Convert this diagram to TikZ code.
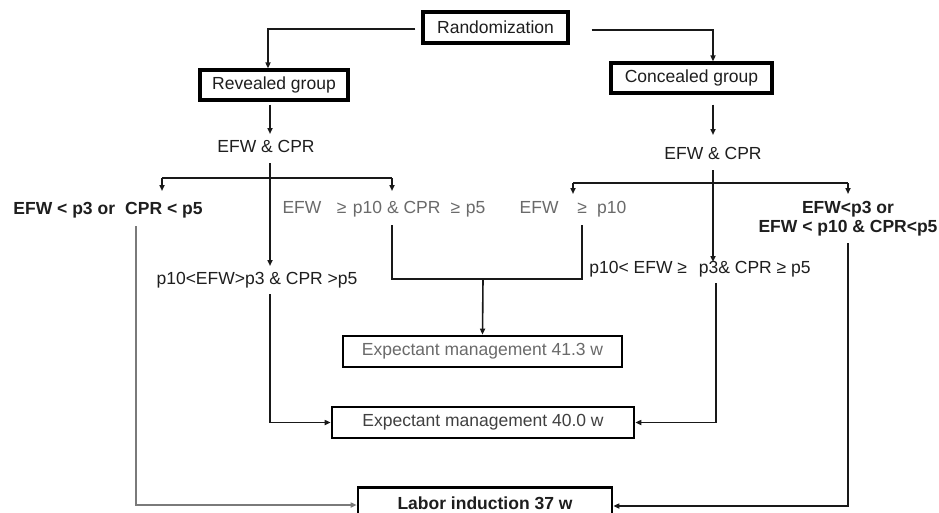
\documentclass[tikz,border=0pt]{standalone}
\usepackage{fontspec}
\setmainfont{Liberation Sans}
\usetikzlibrary{arrows.meta}
\definecolor{txt}{HTML}{1E1E1E}
\definecolor{gtxt}{HTML}{6A6A6A}
\definecolor{gline}{HTML}{7A7A7A}
\begin{document}
\begin{tikzpicture}[x=1pt,y=-1pt,
  every node/.style={font=\fontsize{17.5}{20}\selectfont, text=txt},
  lbl/.style={inner sep=0pt, align=center},
  boxa/.style={draw=black, line width=3.2pt, inner sep=0pt, minimum height=30pt},
  boxb/.style={draw=black, line width=2.6pt, inner sep=0pt, minimum height=31pt},
  conn/.style={draw=black!90, line width=1.6pt},
  arr/.style={conn, -{Triangle[length=6pt,width=5pt]}},
  garr/.style={draw=gline, line width=1.6pt, -{Triangle[length=6pt,width=5pt]}}
]
\useasboundingbox (0,0) rectangle (939,512);
\fill[white] (0,0) rectangle (939,512);

% boxes
\node[boxa, minimum width=145pt, minimum height=31pt] (rand) at (495.5,27.5) {Randomization};
\node[boxa, minimum width=148pt] (rev) at (274,85) {Revealed group};
\node[boxa, minimum width=161pt] (con) at (691.5,78) {Concealed group};
\node[boxb, minimum width=279pt, text=gtxt] (em41) at (482.5,351.5) {Expectant management 41.3 w};
\node[boxb, minimum width=302pt, text=txt!85] (em40) at (483,422.5) {Expectant management 40.0 w};
\node[boxb, minimum width=254pt, font=\fontsize{17.5}{20}\selectfont\bfseries] (li) at (485,503) {Labor induction 37 w};

% text labels
\node[lbl] (efw1) at (266,146) {EFW \& CPR};
\node[lbl] (efw2) at (713,153) {EFW \& CPR};
\node[lbl, font=\fontsize{17.5}{20}\selectfont\bfseries] (L1) at (108,210) {EFW < p3 or\hspace{0.3em} CPR < p5};
\node[lbl, text=gtxt] (L2) at (384,209) {EFW\hspace{0.6em} ≥ \hspace{0.1em}p10 \& CPR\hspace{0.3em} ≥ \hspace{0.05em}p5};
\node[lbl, text=gtxt] (R1) at (573,209) {EFW\hspace{0.8em} ≥\hspace{0.3em} p10};
\node[lbl, font=\fontsize{17.5}{19}\selectfont\bfseries] (R2) at (848,219) {EFW<p3 or\\EFW < p10 \& CPR<p5};
\node[lbl] (M1) at (257,280) {p10<EFW>p3 \& CPR >p5};
\node[lbl] (M2) at (700,269) {p10< EFW ≥\hspace{0.4em} p3\& CPR ≥ p5};

% junction / end coordinates
\coordinate (rl) at (268,29);
\coordinate (rr) at (713,30);
\coordinate (e1top) at (270,134);
\coordinate (e2top) at (713,135);
\coordinate (e1bot) at (270,163);
\coordinate (e2bot) at (713,170);
\coordinate (m1top) at (270,266);
\coordinate (m2top) at (713,262);
\coordinate (jl1) at (162,178);
\coordinate (jl2) at (392,178);
\coordinate (jl) at (270,178);
\coordinate (l1top) at (162,191);
\coordinate (l2top) at (392,191);
\coordinate (jr1) at (573,183);
\coordinate (jr2) at (848,183);
\coordinate (jr) at (713,183);
\coordinate (r1top) at (573,194);
\coordinate (r2top) at (848,194);
\coordinate (l1bot) at (136,226);
\coordinate (l2bot) at (392,225);
\coordinate (r1bot) at (582,225);
\coordinate (r2bot) at (848,243);
\coordinate (m1bot) at (270,294);
\coordinate (m2bot) at (716,283);
\coordinate (mL) at (392,279);
\coordinate (mR) at (582,279);
\coordinate (mM) at (483,279);

% randomization
\draw[arr] ([xshift=-6pt,yshift=-1.5pt]rand.west) -| ([xshift=-6pt]rev.north);
\draw[arr] ([xshift=22pt,yshift=-2.5pt]rand.east) -| ([xshift=21.5pt]con.north);
% group -> EFW & CPR
\draw[arr] ([xshift=-4pt,yshift=-3pt]rev.south) -- (e1top);
\draw[arr] ([xshift=21.5pt,yshift=-10pt]con.south) -- (e2top);

% left tree
\draw[arr] (e1bot) -- (m1top);
\draw[conn] (jl1) -- (jl2);
\draw[arr] (jl1) -- (l1top);
\draw[arr] (jl2) -- (l2top);

% right tree
\draw[arr] (e2bot) -- (m2top);
\draw[conn] (jr1) -- (jr2);
\draw[arr] (jr1) -- (r1top);
\draw[arr] (jr2) -- (r2top);

% to expectant management 41.3
\draw[conn] (l2bot) -- (mL) -- (mR) -- (r1bot);
\draw[arr] (mM) -- (em41.north);

% to expectant management 40.0
\draw[arr] (m1bot) |- (em40.west);
\draw[arr] (m2bot) |- (em40.east);

% to labor induction
\draw[garr] (l1bot) |- ([yshift=-2pt]li.west);
\draw[arr] (r2bot) |- ([yshift=-3pt]li.east);
\end{tikzpicture}
\end{document}
